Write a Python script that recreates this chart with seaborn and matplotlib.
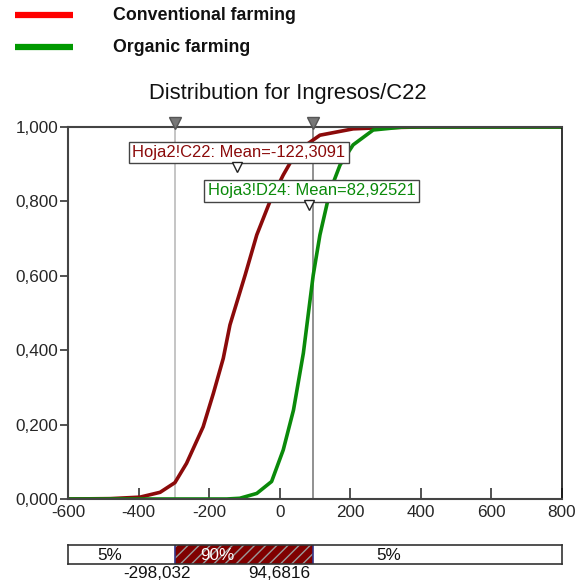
import matplotlib
matplotlib.use("Agg")
import matplotlib.pyplot as plt
import matplotlib.ticker as mticker
from matplotlib.patches import Rectangle
import numpy as np
import pandas as pd
import seaborn as sns

# ---------------- data ----------------
conv_x = [-600, -480, -396, -339, -297, -264, -217, -188, -160, -141, -98, -65,
          -28, 10, 48, 114, 208, 284, 400, 800]
conv_p = [0.0, 0.001, 0.005, 0.018, 0.044, 0.096, 0.194, 0.284, 0.378, 0.468,
          0.602, 0.710, 0.799, 0.871, 0.934, 0.978, 0.995, 0.998, 1.0, 1.0]
org_x = [-600, -150, -113, -65, -23, 10, 39, 67, 86, 95, 114, 142, 171, 208,
         265, 350, 800]
org_p = [0.0, 0.0, 0.002, 0.015, 0.047, 0.132, 0.239, 0.392, 0.535, 0.602,
         0.710, 0.826, 0.898, 0.952, 0.992, 1.0, 1.0]
series_names = ["Conventional farming", "Organic farming"]
mean_labels = ["Hoja2!C22: Mean=-122,3091", "Hoja3!D24: Mean=82,92521"]
means = [-122.3091, 82.92521]
lower_q, upper_q = -298.032, 94.6816
band_labels = ["5%", "90%", "5%"]
x_ticks = [-600, -400, -200, 0, 200, 400, 600, 800]
y_ticks = [0.0, 0.2, 0.4, 0.6, 0.8, 1.0]
title = "Distribution for Ingresos/C22"

curve_colors = ["#8b0a0a", "#0a8a0a"]
legend_colors = ["#ff0000", "#009900"]

# ---------------- style ----------------
sns.set_theme(style="white")
plt.rcParams["font.family"] = ["Liberation Sans", "DejaVu Sans"]
plt.rcParams["axes.unicode_minus"] = False

W, H = 588, 583
fig = plt.figure(figsize=(W / 100, H / 100), dpi=100)

def fx(px):
    return px / W

def fy(py):
    return 1 - py / H

# main axes
ax = fig.add_axes([fx(68), fy(499), fx(562) - fx(68), fy(127) - fy(499)])

df = pd.concat([
    pd.DataFrame({"x": conv_x, "p": conv_p, "s": series_names[0]}),
    pd.DataFrame({"x": org_x, "p": org_p, "s": series_names[1]}),
])
sns.lineplot(data=df, x="x", y="p", hue="s", palette=curve_colors,
             linewidth=2.6, ax=ax, legend=False, sort=False, estimator=None)

ax.set_xlim(-600, 800)
ax.set_ylim(0, 1)
ax.set_xlabel("")
ax.set_ylabel("")
ax.set_xticks(x_ticks)
ax.set_yticks(y_ticks)
ax.xaxis.set_major_formatter(mticker.FuncFormatter(lambda v, p: f"{v:.0f}"))
ax.yaxis.set_major_formatter(
    mticker.FuncFormatter(lambda v, p: f"{v:.3f}".replace(".", ",")))
ax.tick_params(axis="x", direction="in", length=8, width=1.2, color="#333333",
               labelsize=12.3, pad=4, bottom=True)
ax.tick_params(axis="y", direction="out", length=6, width=1.2, color="#333333",
               labelsize=12.3, pad=1, left=True)
for s in ["left", "bottom", "top"]:
    ax.spines[s].set_color("#444444")
    ax.spines[s].set_linewidth(1.5)
ax.spines["right"].set_color("#111111")
ax.spines["right"].set_linewidth(1.2)

# quantile lines with markers
ax.axvline(lower_q, color="#c0c0c0", lw=1.3, zorder=1)
ax.axvline(upper_q, color="#888888", lw=1.3, zorder=1)
for q in [lower_q, upper_q]:
    ax.plot([q], [1.012], marker="v", markersize=8, color="#777777",
            markeredgecolor="#555555", clip_on=False, zorder=5)

# mean labels
label_y = [0.931, 0.828]
tri_y = [0.893, 0.789]
box_x = [(133 + 345) / 2, (208 + 415) / 2]
for i in range(2):
    cx = (box_x[i] - 68) / (494 / 1400) - 600
    ax.text(cx, label_y[i], mean_labels[i], color=curve_colors[i],
            fontsize=11.9, ha="center", va="center", zorder=6,
            bbox=dict(boxstyle="square,pad=0.2", fc="white", ec="#444444",
                      lw=1.0))
    ax.plot([means[i]], [tri_y[i]], marker="v", markersize=7, color="white",
            markeredgecolor="#222222", markeredgewidth=1.0, zorder=7)

fig.text(fx(288), fy(93), title, fontsize=15.8, ha="center", va="center",
         color="#111111")

# bottom bar
bx = fig.add_axes([fx(68), fy(564), fx(562) - fx(68), fy(545) - fy(564)])
bx.set_xlim(-600, 800)
bx.set_ylim(0, 1)
bx.set_xticks([])
bx.set_yticks([])
bx.add_patch(Rectangle((lower_q, 0), upper_q - lower_q, 1, fc="#800000",
                       ec="#9a9a9a", hatch="///", lw=0))
bx.axvline(lower_q, color="#333388", lw=1.2)
bx.axvline(upper_q, color="#333388", lw=1.2)
for s in bx.spines.values():
    s.set_color("#333333")
    s.set_linewidth(1.2)
band_pos = [-481, -176, 310]
band_col = ["#111111", "white", "#111111"]
for p, t, c in zip(band_pos, band_labels, band_col):
    bx.text(p, 0.45, t, ha="center", va="center", fontsize=12.3, color=c)
fig.text(fx(157), fy(574), f"{lower_q:.3f}".replace(".", ","), ha="center",
         va="center", fontsize=12.3, color="#111111")
fig.text(fx(279), fy(574), f"{upper_q:.4f}".replace(".", ","), ha="center",
         va="center", fontsize=12.3, color="#111111")

# legend at the top
for i, (name, col) in enumerate(zip(series_names, legend_colors)):
    y = [15, 47][i]
    fig.add_artist(plt.Line2D([fx(15), fx(73)], [fy(y), fy(y)], color=col,
                              lw=4.5, solid_capstyle="butt",
                              transform=fig.transFigure))
    fig.text(fx(113), fy(y), name, fontsize=12.8, fontweight="bold",
             va="center", ha="left", color="#111111")

fig.savefig("out.png", dpi=100)
